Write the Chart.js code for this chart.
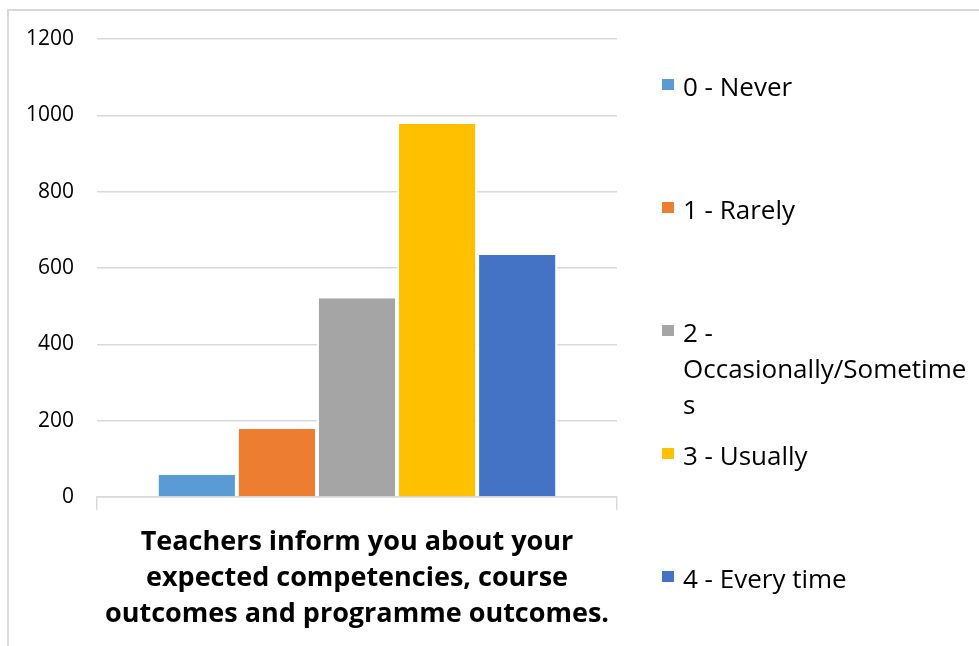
<!DOCTYPE html>
<html>
<head>
<meta charset="utf-8">
<script src="https://cdn.jsdelivr.net/npm/chart.js@4.4.1/dist/chart.umd.min.js"></script>
<style>
  html, body { margin: 0; padding: 0; background: #fff; overflow: hidden; }
  body { width: 979px; height: 646px; position: relative; font-family: "Open Sans", sans-serif; }
  .frame { position: absolute; left: 7px; top: 9px; width: 1100px; height: 800px; border: 2px solid #d9d9d9; box-sizing: border-box; }
  #chart { position: absolute; left: 0; top: 0; }
  #legend { position: absolute; left: 662px; top: 68px; width: 317px; }
  .item { position: relative; height: 123px; font-size: 26px; line-height: 36px; color: #000; }
  .item .box { position: absolute; left: 0; top: 11px; width: 12px; height: 11px; }
  .item .txt { position: absolute; left: 21px; top: 0; width: 290px; overflow-wrap: anywhere; }
</style>
</head>
<body>
<div class="frame"></div>
<canvas id="chart" width="979" height="646"></canvas>
<div id="legend"></div>
<script>
// Dados do gráfico
const categories = [["Teachers inform you about your", "expected competencies, course", "outcomes and programme outcomes."]];
const seriesNames = ["0 - Never", "1 - Rarely", "2 - Occasionally/Sometimes", "3 - Usually", "4 - Every time"];
const seriesValues = [58, 178, 521, 977, 634];
const seriesColors = ["#5B9BD5", "#ED7D31", "#A5A5A5", "#FFC000", "#4472C4"];
const yTicks = [0, 200, 400, 600, 800, 1000, 1200];

const datasets = seriesNames.map((name, i) => ({
    label: name,
    data: [seriesValues[i]],
    backgroundColor: seriesColors[i],
    borderColor: '#ffffff',
    borderWidth: { top: 0, left: 2, right: 2, bottom: 0 },
    categoryPercentage: 0.77,
    barPercentage: 1
}));

const ctx = document.getElementById('chart').getContext('2d');
new Chart(ctx, {
    type: 'bar',
    data: { labels: categories, datasets: datasets },
    options: {
        responsive: false,
        animation: false,
        layout: { padding: { top: 39, right: 362, bottom: 0, left: 0 } },
        plugins: {
            legend: { display: false },
            tooltip: { enabled: false }
        },
        scales: {
            y: {
                min: yTicks[0],
                max: yTicks[yTicks.length - 1],
                afterBuildTicks: (scale) => { scale.ticks = yTicks.map(v => ({ value: v })); },
                afterFit: (scale) => { scale.width = 97; },
                border: { display: false },
                grid: { color: '#d9d9d9', lineWidth: 1.5, drawTicks: false },
                ticks: {
                    color: '#000',
                    padding: 23,
                    font: { family: 'Open Sans', size: 21 },
                    callback: (v) => String(v)
                }
            },
            x: {
                afterFit: (scale) => { scale.height = 149; },
                border: { display: true, color: '#d9d9d9', width: 1.5 },
                grid: { offset: true, drawOnChartArea: false, drawTicks: true, tickLength: 13, color: '#d9d9d9', lineWidth: 1.5 },
                ticks: { color: '#000', padding: 14, maxRotation: 0, font: { family: 'Open Sans', size: 27, weight: 'bold', lineHeight: 1.34 } }
            }
        }
    }
});

// Legenda à direita (estilo Excel)
const legend = document.getElementById('legend');
seriesNames.forEach((name, i) => {
    const item = document.createElement('div');
    item.className = 'item';
    const box = document.createElement('span');
    box.className = 'box';
    box.style.background = seriesColors[i];
    const txt = document.createElement('span');
    txt.className = 'txt';
    txt.textContent = name.replace('/', '/\u2060');
    item.appendChild(box);
    item.appendChild(txt);
    legend.appendChild(item);
});
</script>
</body>
</html>
